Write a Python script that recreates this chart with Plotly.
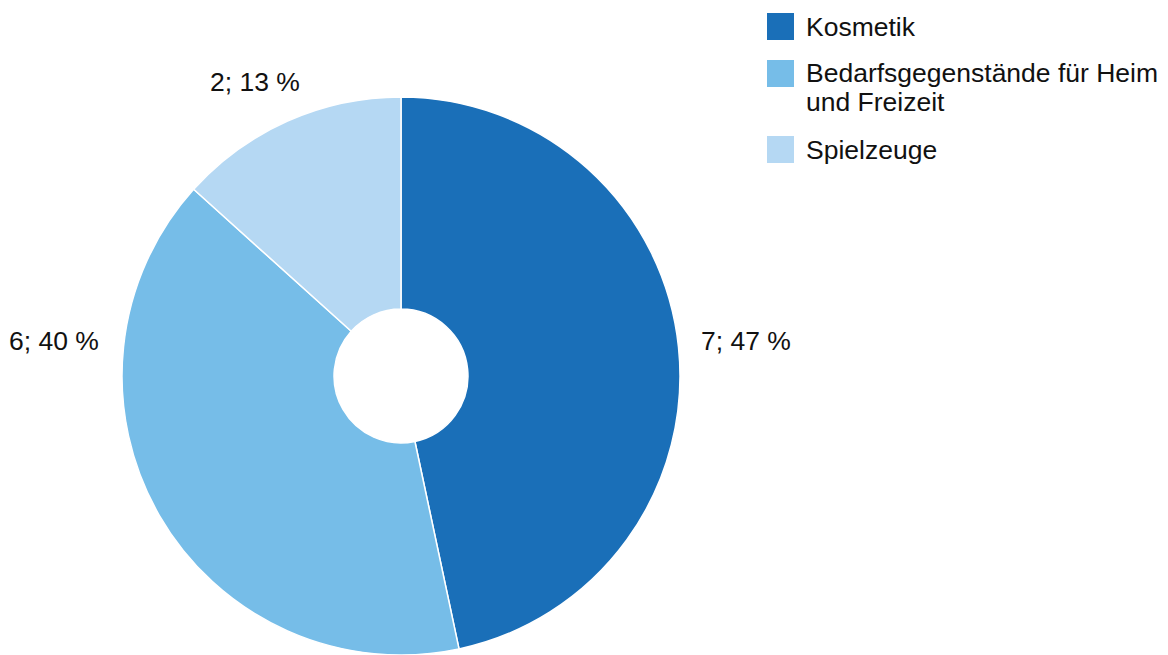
import plotly.graph_objects as go

# Beanstandete Proben nach Warengruppe
categories = ["Kosmetik", "Bedarfsgegenstände für Heim und Freizeit", "Spielzeuge"]
legend_lines = [["Kosmetik"], ["Bedarfsgegenstände für Heim", "und Freizeit"], ["Spielzeuge"]]
counts = [7, 6, 2]
colors = ["#1a6fb8", "#76bde8", "#b5d8f3"]

W, H = 1168, 655
FONT = "Liberation Sans, Arial, sans-serif"
FS = 26.5

total = sum(counts)
label_texts = [f"{c}; {round(100 * c / total)} %" for c in counts]

fig = go.Figure(
    go.Pie(
        labels=categories,
        values=counts,
        sort=False,
        direction="clockwise",
        rotation=0,
        hole=0.24,
        marker=dict(colors=colors, line=dict(color="white", width=1.5)),
        textinfo="none",
        hoverinfo="label+value+percent",
        showlegend=False,
        domain=dict(x=[121 / W, 681 / W], y=[0.0, 1 - 97 / H]),
    )
)


def px(x):
    return x / W


def py(y):
    return 1 - y / H


# value labels beside the slices
label_pos = [
    dict(x=699, y=341, xanchor="left"),
    dict(x=101, y=341, xanchor="right"),
    dict(x=302, y=82, xanchor="right"),
]
annotations = []
for txt, pos in zip(label_texts, label_pos):
    annotations.append(
        dict(
            x=px(pos["x"]), y=py(pos["y"]), xref="paper", yref="paper",
            text=txt, showarrow=False, xanchor=pos["xanchor"], yanchor="middle",
            font=dict(family=FONT, size=FS, color="#111111"),
        )
    )

# legend drawn as swatches plus text lines
shapes = []
top = 13
SW = 27
LINE = 29
for lines, col in zip(legend_lines, colors):
    shapes.append(
        dict(
            type="rect", xref="paper", yref="paper",
            x0=px(767), x1=px(767 + SW), y0=py(top + SW), y1=py(top),
            fillcolor=col, line=dict(width=0),
        )
    )
    for k, line in enumerate(lines):
        annotations.append(
            dict(
                x=px(804), y=py(top + SW / 2 + k * LINE), xref="paper", yref="paper",
                text=line, showarrow=False, xanchor="left", yanchor="middle",
                font=dict(family=FONT, size=FS, color="#111111"),
            )
        )
    top += len(lines) * LINE + 18

fig.update_layout(
    width=W,
    height=H,
    margin=dict(l=0, r=0, t=0, b=0),
    paper_bgcolor="white",
    plot_bgcolor="white",
    annotations=annotations,
    shapes=shapes,
    showlegend=False,
)

fig.write_html("out.html")
